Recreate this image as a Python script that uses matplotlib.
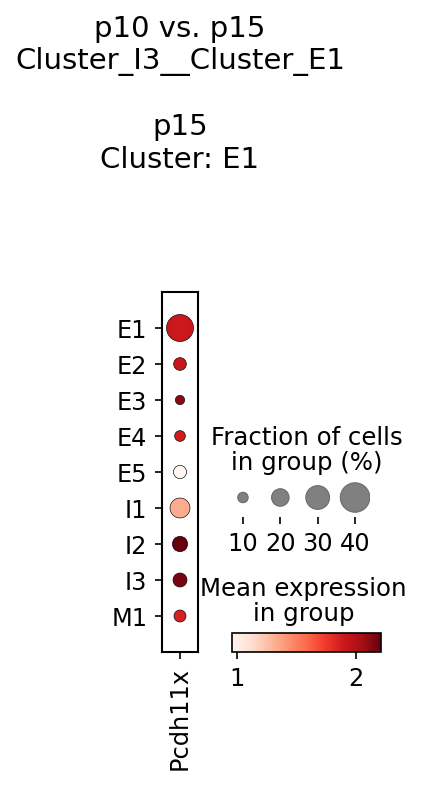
import numpy as np
import matplotlib
matplotlib.use('Agg')
import matplotlib.pyplot as plt
from matplotlib.colors import Normalize
from matplotlib.colorbar import ColorbarBase

# groups (rows) and the single gene (column)
groups = ['E1', 'E2', 'E3', 'E4', 'E5', 'I1', 'I2', 'I3', 'M1']
gene = 'Pcdh11x'
# fraction of cells expressing the gene in each group
frac = [0.356, 0.130, 0.086, 0.104, 0.138, 0.238, 0.167, 0.148, 0.121]
# mean expression in each group
mean_expr = [1.90, 1.92, 2.12, 1.88, 0.954, 1.33, 2.214, 2.16, 1.86]
size_legend_vals = [0.1, 0.2, 0.3, 0.4]
cbar_ticks = [1, 2]

title = 'p10 vs. p15\nCluster_I3__Cluster_E1\n\np15\nCluster: E1'

W, H, DPI = 424, 786, 150
fig = plt.figure(figsize=(W / DPI, H / DPI), dpi=DPI)


def px_axes(x0, y0, x1, y1):
    """axes from pixel box (top-left origin)"""
    return fig.add_axes([x0 / W, 1 - y1 / H, (x1 - x0) / W, (y1 - y0) / H])


dot_max = 0.4
largest = 200.0


def dot_size(f):
    return largest * (np.asarray(f) / dot_max) ** 1.5


cmap = plt.get_cmap('Reds')
norm = Normalize(vmin=min(mean_expr), vmax=max(mean_expr))
tick_fs = 11.5
legend_fs = 11.7

# main dot plot
ax = px_axes(162, 292, 198, 652)
y = np.arange(len(groups)) + 0.5
ax.scatter(np.zeros(len(groups)), y, s=dot_size(frac), c=mean_expr, cmap=cmap,
           norm=norm, edgecolors='black', linewidths=0.3, zorder=3)
ax.set_xlim(-0.5, 0.5)
ax.set_ylim(len(groups) + 0.5, -0.5)
ax.set_yticks(y)
ax.set_yticklabels(groups, fontsize=tick_fs)
ax.set_xticks([0])
ax.set_xticklabels([gene], rotation=90, fontsize=tick_fs)
for s in ax.spines.values():
    s.set_linewidth(1.0)

fig.text(180 / W, 1 - 15 / H, title, ha='center', va='top', fontsize=14,
         linespacing=1.2)

# size legend
lax = px_axes(228, 478, 370, 517)
xs = np.arange(len(size_legend_vals))
lax.scatter(xs, np.full(len(xs), 0.5), s=dot_size(size_legend_vals),
            color='gray', edgecolors='dimgray', linewidths=0.5, zorder=3)
lax.set_xlim(-0.4, len(xs) - 0.6)
lax.set_ylim(0, 1)
lax.set_xticks(xs)
lax.set_xticklabels([str(int(round(v * 100))) for v in size_legend_vals],
                    fontsize=tick_fs)
lax.set_yticks([])
for s in lax.spines.values():
    s.set_visible(False)
lax.set_title('Fraction of cells\nin group (%)', fontsize=legend_fs, pad=4,
              linespacing=1.05, x=0.555)

# colorbar
cax = px_axes(232, 633, 381, 652)
cb = ColorbarBase(cax, cmap=cmap, norm=norm, orientation='horizontal')
cb.set_ticks(cbar_ticks)
cb.ax.tick_params(labelsize=tick_fs)
cax.set_title('Mean expression\nin group', fontsize=legend_fs, pad=6,
              linespacing=1.05, x=0.48)

fig.savefig('out.png', dpi=DPI, facecolor='white')
